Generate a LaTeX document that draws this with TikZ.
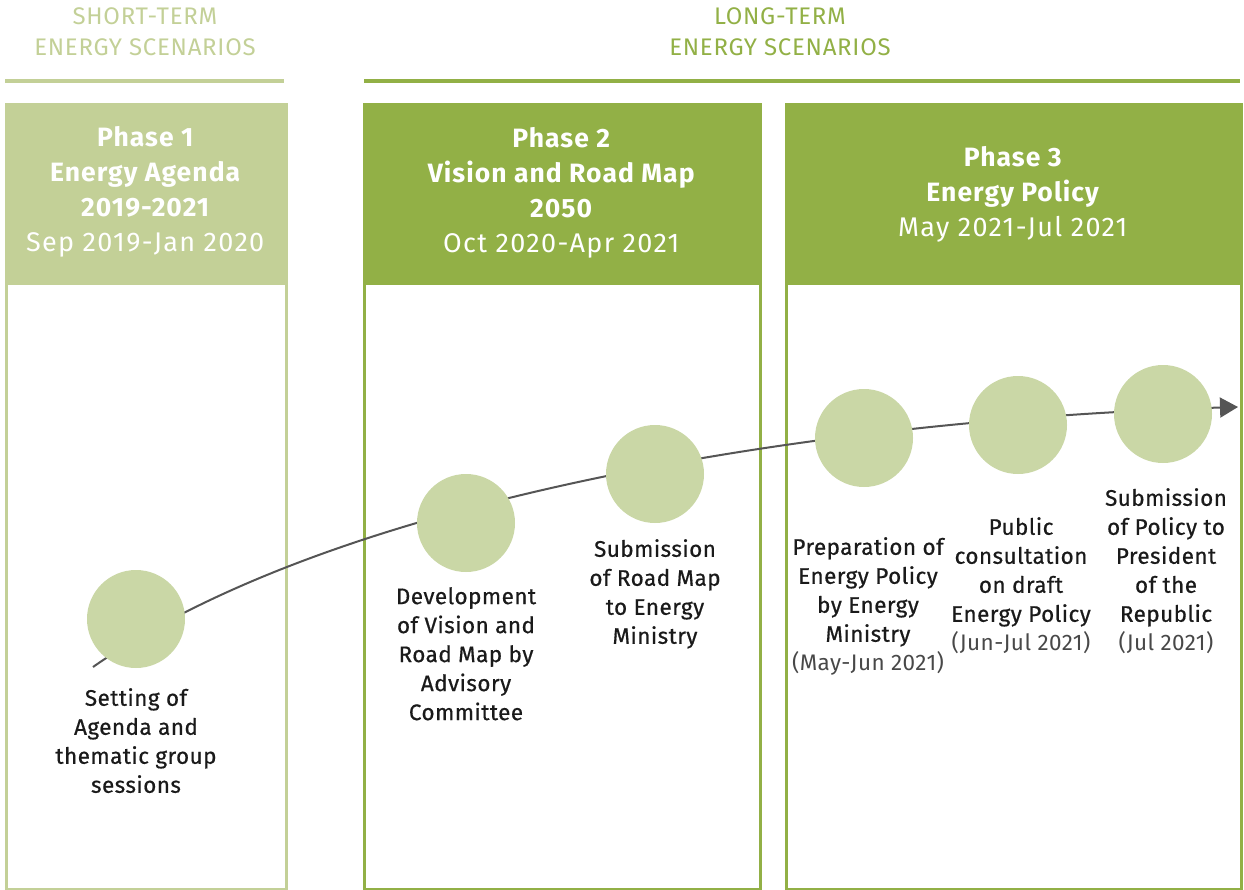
\documentclass[tikz,border=0pt]{standalone}
\usepackage{fontspec}
\setmainfont{Fira Sans}
\newfontfamily\scenfont{Fira Sans}[LetterSpace=3]
\newfontfamily\headfont{Fira Sans}[LetterSpace=4]
\newfontfamily\headdatefont{Fira Sans}[LetterSpace=5]
\newfontfamily\labelfont{Fira Sans}[FakeBold=0.6,LetterSpace=2]
\newfontfamily\datefont{Fira Sans}[LetterSpace=2]
\usetikzlibrary{arrows.meta}
\definecolor{lightgreen}{HTML}{C3D097}
\definecolor{darkgreen}{HTML}{92B046}
\definecolor{dotgreen}{HTML}{CAD7A6}
\definecolor{linegray}{HTML}{555555}
\definecolor{textblack}{HTML}{1A1A1A}
\newcommand\stepdate{\datefont\color{textblack!80}}
\newcommand\headdate{\fontsize{27}{35}\selectfont\headdatefont\mdseries}

\begin{document}
\begin{tikzpicture}[x=1pt,y=-1pt,
		scen text/.style={align=center,inner sep=0pt,font=\fontsize{24}{31}\selectfont\scenfont},
		phase box/.style={draw=#1,line width=2.5pt,anchor=north west,inner sep=0pt},
		phase head/.style={fill=#1,anchor=north west,inner sep=0pt},
		head text/.style={align=center,inner sep=0pt,text=white,font=\fontsize{26.5}{35}\selectfont\headfont\bfseries},
		dot/.style={circle,fill=dotgreen,minimum size=98pt,inner sep=0pt},
		step text/.style={align=center,anchor=north,inner sep=0pt,text=textblack,font=\fontsize{22.5}{29}\selectfont\labelfont}]
		\useasboundingbox (0,0) rectangle (1244,890);
		% scenario titles
		\node[scen text,text=lightgreen] (short) at (145,32) {SHORT-TERM\\ENERGY SCENARIOS};
		\node[scen text,text=darkgreen] (long) at (780,32) {LONG-TERM\\ENERGY SCENARIOS};
		\draw[lightgreen,line width=4pt] (5,81) -- (284,81);
		\draw[darkgreen,line width=4pt] (364,81) -- (1240,81);
		% phases
		\node[phase head=lightgreen,minimum width=280pt,minimum height=182pt] (h1) at (5,103) {};
		\node[phase head=darkgreen,minimum width=396pt,minimum height=182pt] (h2) at (363,103) {};
		\node[phase head=darkgreen,minimum width=455pt,minimum height=182pt] (h3) at (785,103) {};
		\node[phase box=lightgreen,minimum width=280pt,minimum height=785pt] (box1) at (5,103) {};
		\node[phase box=darkgreen,minimum width=396pt,minimum height=785pt] (box2) at (363,103) {};
		\node[phase box=darkgreen,minimum width=455pt,minimum height=785pt] (box3) at (785,103) {};
		\node[head text] (p1) at ([yshift=2pt]h1.center) {Phase 1\\Energy Agenda\\2019-2021\\{\headdate Sep 2019-Jan 2020}};
		\node[head text] (p2) at ([yshift=1.5pt]h2.center) {Phase 2\\Vision and Road Map\\2050\\{\headdate Oct 2020-Apr 2021}};
		\node[head text] (p3) at (h3.center) {Phase 3\\Energy Policy\\{\headdate May 2021-Jul 2021}};
		% timeline
		\coordinate (s) at (93,667);
		\coordinate (e) at (1238,407);
		\draw[linegray,line width=2pt,-{Triangle[length=18pt,width=20pt]}] (s) .. controls (343,492) and (838,419) .. (e);
		\node[dot] (1) at (136,619) {};
		\node[dot] (2) at (466,523) {};
		\node[dot] (3) at (655,474) {};
		\node[dot] (4) at (864,438) {};
		\node[dot] (5) at (1018,425) {};
		\node[dot] (6) at (1163,414) {};
		\node[step text] (t1) at (136,688) {Setting of\\Agenda and\\thematic group\\sessions};
		\node[step text] (t2) at (466,587) {Development\\of Vision and\\Road Map by\\Advisory\\Committee};
		\node[step text] (t3) at (655,539) {Submission\\of Road Map\\to Energy\\Ministry};
		\node[step text] (t4) at (868,537) {Preparation of\\Energy Policy\\by Energy\\Ministry\\{\stepdate (May-Jun 2021)}};
		\node[step text] (t5) at (1021,517) {Public\\consultation\\on draft\\Energy Policy\\{\stepdate (Jun-Jul 2021)}};
		\node[step text] (t6) at (1166,488) {Submission\\of Policy to\\President\\of the\\Republic\\{\stepdate (Jul 2021)}};
\end{tikzpicture}
\end{document}
